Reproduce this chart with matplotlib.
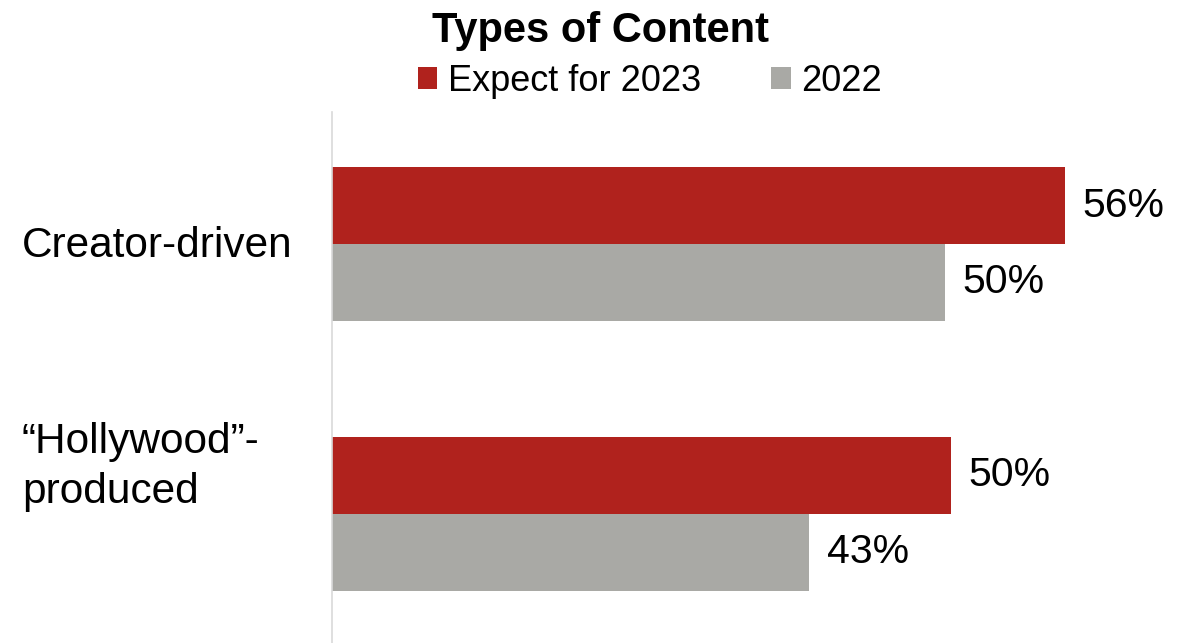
import matplotlib.pyplot as plt
import numpy as np

plt.rcParams['font.family'] = ['Liberation Sans', 'DejaVu Sans']

categories = ['Creator-driven', '\u201cHollywood\u201d-\nproduced']
series_names = ['Expect for 2023', '2022']
# bar lengths as drawn in the picture (labels are the rounded percents)
expect_2023 = [59.1, 49.9]
year_2022 = [49.4, 38.5]
labels_2023 = ['56%', '50%']
labels_2022 = ['50%', '43%']

red = '#B0221D'
gray = '#A9A9A5'

fig = plt.figure(figsize=(11.97, 6.43), dpi=100)
ax = fig.add_axes([332/1197, 0, 1 - 332/1197, 1 - 112/643])

y = np.arange(len(categories))
h = 0.285
ax.barh(y - h/2, expect_2023, height=h, color=red, label=series_names[0])
ax.barh(y + h/2, year_2022, height=h, color=gray, label=series_names[1])

for i in range(len(categories)):
    ax.text(expect_2023[i] + 1.4, y[i] - h/2, labels_2023[i], va='center', ha='left', fontsize=29.5)
    ax.text(year_2022[i] + 1.4, y[i] + h/2, labels_2022[i], va='center', ha='left', fontsize=29.5)

ax.set_xlim(0, 865/12.4)
ax.set_ylim(1.478, -0.489)
for s in ['top', 'right', 'bottom']:
    ax.spines[s].set_visible(False)
ax.spines['left'].set_color('#D9D9D9')
ax.spines['left'].set_linewidth(1.2)
ax.set_xticks([])
ax.set_yticks([])

# category labels left of the axis, one text per line (baseline offsets)
line_offsets = [[0.048], [-0.225, -0.041]]
for i, c in enumerate(categories):
    for line, off in zip(c.split('\n'), line_offsets[i]):
        ax.text(-310/12.4, y[i] + off, line, ha='left', va='baseline', fontsize=30.5,
                clip_on=False)

fig.text(0.502, 1 - 41.7/643, 'Types of Content', ha='center', va='baseline',
         fontsize=30, fontweight='bold')
fig.legend(loc='center', bbox_to_anchor=(0.5426, 1 - 81.5/643), ncol=2, frameon=False,
           fontsize=26, handlelength=0.55, handleheight=0.55, handletextpad=0.28,
           columnspacing=1.94)

fig.savefig('out.png', dpi=100)
